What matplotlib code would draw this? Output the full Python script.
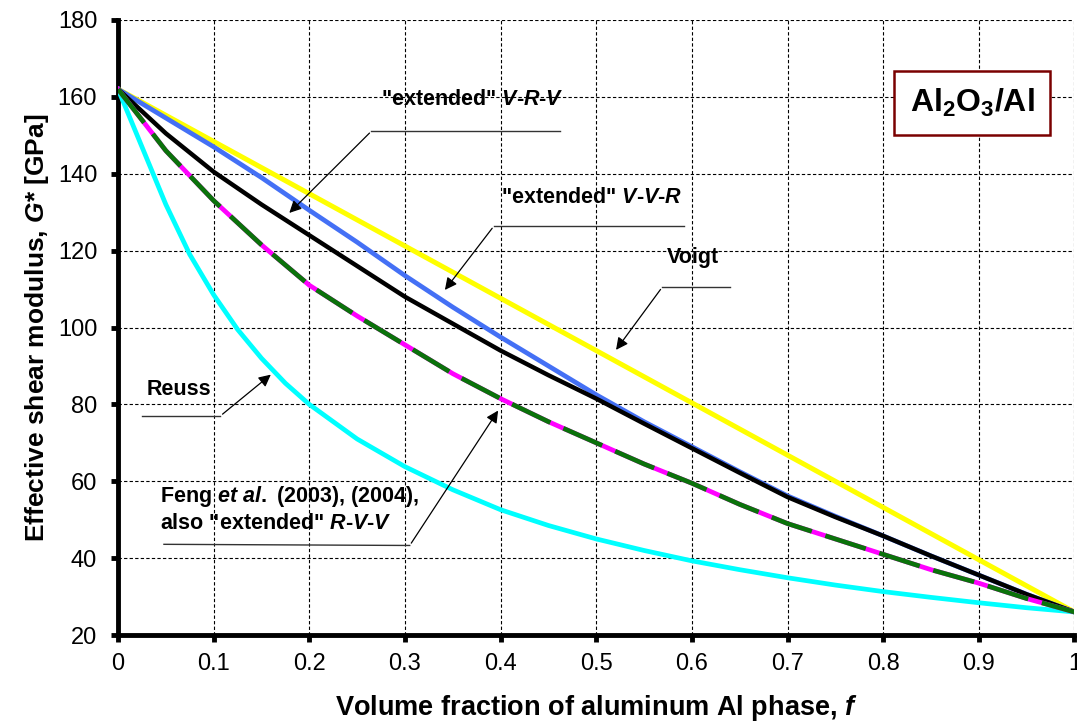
import matplotlib
matplotlib.use("Agg")
import matplotlib.pyplot as plt
import numpy as np

plt.rcParams['font.family'] = ['Liberation Sans', 'DejaVu Sans']
plt.rcParams['mathtext.fontset'] = 'custom'
plt.rcParams['mathtext.rm'] = 'Liberation Sans:bold'
plt.rcParams['mathtext.bf'] = 'Liberation Sans:bold'
plt.rcParams['mathtext.it'] = 'Liberation Sans:italic:bold'

# volume fraction of Al
f = [0, 0.05, 0.1, 0.15, 0.2, 0.25, 0.3, 0.35, 0.4, 0.45, 0.5,
     0.55, 0.6, 0.65, 0.7, 0.75, 0.8, 0.85, 0.9, 0.95, 1.0]

# effective shear modulus G* [GPa]
voigt = [162, 155.2, 148.4, 141.6, 134.8, 128, 121.2, 114.4, 107.6, 100.8, 94,
         87.2, 80.4, 73.6, 66.8, 60, 53.2, 46.4, 39.6, 32.8, 26]
vvr = [162, 154.5, 147, 139, 130.5, 122.2, 113.5, 105.3, 97.5, 90, 82.5,
       75.5, 69, 62.5, 56.2, 50.9, 45.8, 40.6, 35.6, 30.6, 26]
vrv = [162, 150.5, 140.5, 132, 124, 116, 108, 101, 94, 87.6, 81.5,
       75, 68.6, 62.2, 55.9, 50.7, 45.8, 40.6, 35.6, 30.6, 26]
feng = [162, 146, 133, 121.5, 111, 103, 95.5, 88, 81.5, 75.5, 70,
        64.5, 59.5, 54, 49, 45, 41, 37, 33.5, 29.5, 26]

f_reuss = [0, 0.025, 0.05, 0.075, 0.1, 0.125, 0.15, 0.175, 0.2, 0.25, 0.3,
           0.35, 0.4, 0.45, 0.5, 0.55, 0.6, 0.65, 0.7, 0.75, 0.8, 0.85,
           0.9, 0.95, 1.0]
reuss = [162, 147, 132, 119, 108.5, 99.5, 92, 85.5, 80, 71, 63.8,
         57.8, 52.6, 48.5, 45, 42, 39.3, 37, 34.9, 33, 31.3, 29.8,
         28.4, 27.1, 26]

xticks = [0, 0.1, 0.2, 0.3, 0.4, 0.5, 0.6, 0.7, 0.8, 0.9, 1]
xticklabels = ["0", "0.1", "0.2", "0.3", "0.4", "0.5", "0.6", "0.7", "0.8", "0.9", "1"]
yticks = [20, 40, 60, 80, 100, 120, 140, 160, 180]

fig = plt.figure(figsize=(10.77, 7.27), dpi=100)
ax = fig.add_axes([0.1096, 0.1265, 0.888, 0.846])

ax.plot(f, voigt, color="#FFFF00", lw=3.6, zorder=3)
ax.plot(f_reuss, reuss, color="#00FFFF", lw=3.4, zorder=3)
ax.plot(f, vvr, color="#4470F5", lw=3.4, zorder=4)
ax.plot(f, vrv, color="black", lw=3.2, zorder=5)
ax.plot(f, feng, color="#FF00FF", lw=3.4, zorder=6)
ax.plot(f, feng, color="#0B720B", lw=3.4, ls=(0, (9, 3)), zorder=7)

ax.set_xlim(0, 1)
ax.set_ylim(20, 180)
ax.set_xticks(xticks)
ax.set_xticklabels(xticklabels)
ax.set_yticks(yticks)
ax.tick_params(labelsize=17, width=3.5, length=5, direction="out")
ax.tick_params(axis="y", pad=10)
ax.tick_params(axis="x", pad=8)
ax.grid(True, color="black", ls=(0, (3, 2)), lw=0.8)
ax.set_axisbelow(True)
for s in ("top", "right"):
    ax.spines[s].set_visible(False)
for s in ("left", "bottom"):
    ax.spines[s].set_linewidth(3.5)

ax.set_xlabel("Volume fraction of aluminum Al phase, $f$", fontsize=19.5,
              fontweight="bold", labelpad=13)
ax.set_ylabel("Effective shear modulus, $G$* [GPa]", fontsize=19,
              fontweight="bold", labelpad=5)

# annotations: text, leader line and arrow
lab = dict(fontsize=15.5, fontweight="bold", zorder=10)
arr = dict(arrowstyle="-|>", color="black", lw=0.9, mutation_scale=18)
leader = dict(color="#333333", lw=1.0, zorder=9)

ax.text(0.275, 159.2, '"extended" $V$-$R$-$V$', va="center", **lab)
ax.plot([0.462, 0.265], [151.1, 151.1], **leader)
ax.annotate("", xy=(0.177, 129.3), xytext=(0.265, 151.1), arrowprops=arr, zorder=9)

ax.text(0.400, 133.9, '"extended" $V$-$V$-$R$', va="center", **lab)
ax.plot([0.592, 0.393], [126.4, 126.4], **leader)
ax.annotate("", xy=(0.34, 109.2), xytext=(0.393, 126.4), arrowprops=arr, zorder=9)

ax.text(0.574, 118.3, "Voigt", va="center", **lab)
ax.plot([0.640, 0.569], [110.5, 110.5], **leader)
ax.annotate("", xy=(0.519, 93.6), xytext=(0.569, 110.5), arrowprops=arr, zorder=9)

ax.text(0.030, 84.0, "Reuss", va="center", **lab)
ax.plot([0.025, 0.107], [77.0, 77.0], **leader)
ax.annotate("", xy=(0.162, 88.2), xytext=(0.107, 77.0), arrowprops=arr, zorder=9)

ax.text(0.044, 56.0, "Feng $et\\ al.$ (2003), (2004),", va="center", **lab)
ax.text(0.044, 48.9, 'also "extended" $R$-$V$-$V$', va="center", **lab)
ax.plot([0.048, 0.305], [43.6, 43.3], **leader)
ax.annotate("", xy=(0.399, 79.0), xytext=(0.305, 43.3), arrowprops=arr, zorder=9)

ax.text(0.893, 158.4, r"$\mathbf{Al_2O_3/Al}$", fontsize=23, ha="center",
        va="center", zorder=10,
        bbox=dict(boxstyle="square,pad=0.5", fc="white", ec="#7A0000", lw=1.8))

fig.savefig("out.png", dpi=100)
